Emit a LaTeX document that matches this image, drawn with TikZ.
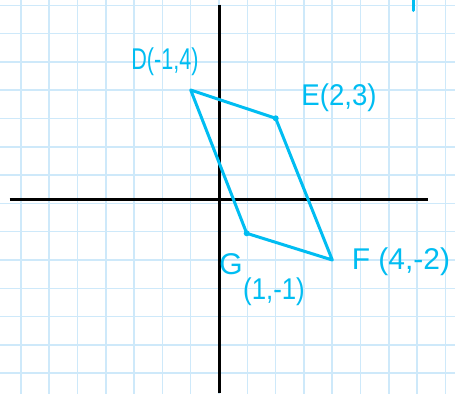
\documentclass[tikz,border=0pt]{standalone}
\usepackage{fontspec}
\setmainfont{Liberation Sans}
\definecolor{ink}{RGB}{0,189,242}
\definecolor{gridc}{RGB}{206,233,250}
\tikzset{
  ink/.style={draw=ink, line width=3pt, line join=round, line cap=round},
  axis/.style={draw=black, line width=3pt},
  lbl/.style={text=ink, inner sep=0pt, font=\fontsize{30}{34}\selectfont},
  inkdot/.style={circle, fill=ink, inner sep=0pt, minimum size=6pt}
}
\begin{document}
\begin{tikzpicture}[x=1pt, y=-1pt]
\useasboundingbox (0,0) rectangle (455,394);
\fill[white] (0,0) rectangle (455,394);
% grid
\foreach \k in {0,...,15} {
  \draw[gridc, line width=1.5pt] ({20.9+28.3*\k},0) -- ({20.9+28.3*\k},394);
}
\foreach \k in {0,...,13} {
  \draw[gridc, line width=1.5pt] (0,{5.3+28.3*\k}) -- (455,{5.3+28.3*\k});
}
% axes
\coordinate (xl) at (9.5,199);
\coordinate (xr) at (428,199);
\coordinate (yt) at (219,4.5);
\coordinate (yb) at (219,393);
\draw[axis] (xl) -- (xr);
\draw[axis] (yt) -- (yb);
% points
\coordinate (D) at (190.7,90);
\node[inkdot] (E) at (275.7,118.3) {};
\coordinate (F) at (332.3,260);
\node[inkdot] (G) at (246.7,233.3) {};
\draw[ink] (D) -- (E.center) -- (F) -- (G.center) -- cycle;
% labels
\node[lbl, xscale=0.72] (Dl) at (165,62) {D(-1,4)};
\node[lbl, xscale=0.92] (El) at (339,98) {E(2,3)};
\node[lbl] (Fl) at (401,262) {F (4,-2)};
\node[lbl] (Gl) at (231,264) {G};
\node[lbl, xscale=0.86] (Gc) at (274,292) {(1,-1)};
% cut-off mark at top right
\coordinate (m1) at (413.3,0);
\coordinate (m2) at (413.3,10.5);
\draw[ink] (m1) -- (m2);
\end{tikzpicture}
\end{document}
